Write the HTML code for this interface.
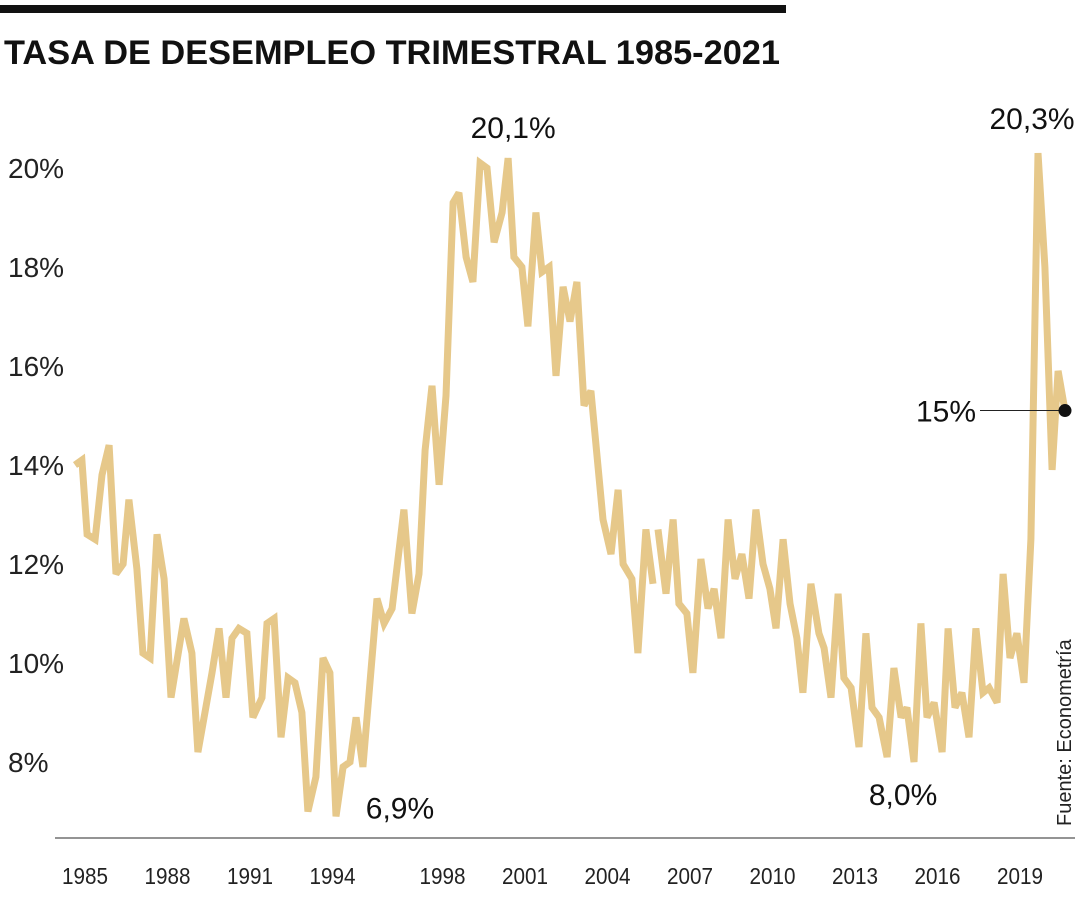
<!DOCTYPE html>
<html><head><meta charset="utf-8"><style>
html,body{margin:0;padding:0;background:#fff;}
svg{display:block;font-family:"Liberation Sans",sans-serif;}
</style></head><body>
<svg id="chart" width="1080" height="900" viewBox="0 0 1080 900">
<rect x="0" y="5" width="786" height="8" fill="#111"/>
<text x="4" y="64" font-size="34" font-weight="bold" fill="#111" textLength="776" lengthAdjust="spacingAndGlyphs">TASA DE DESEMPLEO TRIMESTRAL 1985-2021</text>
<g id="yaxis"></g>
<g id="xaxis"></g>
<line x1="55" y1="838" x2="1075" y2="838" stroke="#555" stroke-width="1.2"/>
<g id="series"></g>
<g id="annot"></g>
<text transform="translate(1071,826) rotate(-90)" font-size="20" fill="#222">Fuente: Econometría</text>
</svg>
<script>
const dates = [1985.00,1985.25,1985.44,1985.73,1985.98,1986.24,1986.49,1986.75,1986.96,1987.25,1987.47,1987.73,1987.98,1988.24,1988.49,1988.96,1989.25,1989.47,1989.98,1990.24,1990.49,1990.71,1990.96,1991.25,1991.47,1991.80,1991.98,1992.24,1992.49,1992.75,1993.00,1993.25,1993.47,1993.76,1994.02,1994.27,1994.49,1994.75,1995.00,1995.22,1995.47,1995.98,1996.24,1996.53,1996.96,1997.25,1997.51,1997.73,1997.98,1998.24,1998.49,1998.75,1998.96,1999.22,1999.47,1999.73,1999.98,2000.24,2000.53,2000.75,2000.96,2001.25,2001.47,2001.76,2001.98,2002.24,2002.49,2002.75,2003.00,2003.25,2003.51,2003.76,2004.20,2004.49,2004.75,2004.93,2005.25,2005.47,2005.76,2006.02,2006.10,2006.20,2006.49,2006.75,2006.96,2007.25,2007.47,2007.76,2008.02,2008.24,2008.49,2008.75,2009.00,2009.25,2009.51,2009.76,2010.02,2010.27,2010.49,2010.75,2011.00,2011.25,2011.47,2011.76,2012.05,2012.24,2012.49,2012.75,2012.96,2013.22,2013.51,2013.76,2013.98,2014.24,2014.53,2014.78,2015.04,2015.25,2015.51,2015.76,2015.98,2016.24,2016.53,2016.75,2017.00,2017.25,2017.51,2017.76,2018.02,2018.24,2018.53,2018.75,2019.00,2019.25,2019.51,2019.76,2020.02,2020.27,2020.53,2020.75,2021.00];
const rates = [14.0,14.1,12.6,12.5,13.8,14.4,11.8,12.0,13.3,11.9,10.2,10.1,12.6,11.7,9.3,10.9,10.2,8.2,9.8,10.7,9.3,10.5,10.7,10.6,8.9,9.3,10.8,10.9,8.5,9.7,9.6,9.0,7.0,7.7,10.1,9.8,6.9,7.9,8.0,8.9,7.9,11.3,10.8,11.1,13.1,11.0,11.8,14.3,15.6,13.6,15.4,19.3,19.5,18.2,17.7,20.1,20.0,18.5,19.1,20.2,18.2,18.0,16.8,19.1,17.9,18.0,15.8,17.6,16.9,17.7,15.2,15.5,12.9,12.2,13.5,12.0,11.7,10.2,12.7,11.6,null,12.7,11.4,12.9,11.2,11.0,9.8,12.1,11.1,11.5,10.5,12.9,11.7,12.2,11.3,13.1,12.0,11.5,10.7,12.5,11.2,10.5,9.4,11.6,10.6,10.3,9.3,11.4,9.7,9.5,8.3,10.6,9.1,8.9,8.1,9.9,8.9,9.1,8.0,10.8,8.9,9.2,8.2,10.7,9.1,9.4,8.5,10.7,9.4,9.5,9.2,11.8,10.1,10.6,9.6,12.5,20.3,18.0,13.9,15.9,15.1];
const yTicks = [8,10,12,14,16,18,20];
const yTickLabels = ["8%","10%","12%","14%","16%","18%","20%"];
const xTicks = [1985,1988,1991,1994,1998,2001,2004,2007,2010,2013,2016,2019];
const xTickLabels = ["1985","1988","1991","1994","1998","2001","2004","2007","2010","2013","2016","2019"];
const annDates = [2000.75,1994.49,2014.53,2020.02];
const annLabels = ["20,1%","6,9%","8,0%","20,3%"];
const lastDate = 2021.00, lastValue = 15.1, lastLabel = "15%";

const NS = "http://www.w3.org/2000/svg";
const y = v => 168 + (20 - v) * 49.5;
const x = t => 75 + (t - 1985) * 27.5;
function mk(tag, attrs, parent){const e=document.createElementNS(NS,tag);for(const k in attrs)e.setAttribute(k,attrs[k]);parent.appendChild(e);return e;}

const ya = document.getElementById('yaxis');
yTicks.forEach((v,i)=>{
  const t = mk('text',{x:8,y:y(v)+10,'font-size':28,fill:'#222'},ya);
  
  
  t.textContent = yTickLabels[i];
});
const xa = document.getElementById('xaxis');
xTicks.forEach((t0,i)=>{
  const t = mk('text',{x:x(t0)+10,y:884,'font-size':23,fill:'#222','text-anchor':'middle',textLength:46,lengthAdjust:'spacingAndGlyphs'},xa);
  
  
  t.textContent = xTickLabels[i];
});

const sg = document.getElementById('series');
let d = "", pen = false;
dates.forEach((t,i)=>{
  const v = rates[i];
  if(v===null){pen=false;return;}
  d += (pen?"L":"M") + x(t).toFixed(1) + "," + y(v).toFixed(1) + " ";
  pen = true;
});
const line = mk('path',{d:d,fill:'none',stroke:'#e6c88a','stroke-width':7,'stroke-linejoin':'miter','stroke-miterlimit':3},sg);



const an = document.getElementById('annot');
const annDx = [5, 64, 16, -6];
const annDy = [-20, 2, 48, -24];
annDates.forEach((t,i)=>{
  const idx = dates.indexOf(t);
  const v = rates[idx];
  const lbl = mk('text',{x:x(t)+annDx[i],y:y(v)+annDy[i],'font-size':30,fill:'#111','text-anchor':'middle'},an);
  
  
  lbl.textContent = annLabels[i];
});
const ll = mk('line',{x1:980,y1:y(lastValue),x2:x(lastDate),y2:y(lastValue),stroke:'#222','stroke-width':1},an);


const dot = mk('circle',{cx:x(lastDate),cy:y(lastValue),r:6.5,fill:'#111'},an);


const lt = mk('text',{x:976,y:y(lastValue)+11,'font-size':30,fill:'#111','text-anchor':'end'},an);


lt.textContent = lastLabel;
</script>
</body></html>
